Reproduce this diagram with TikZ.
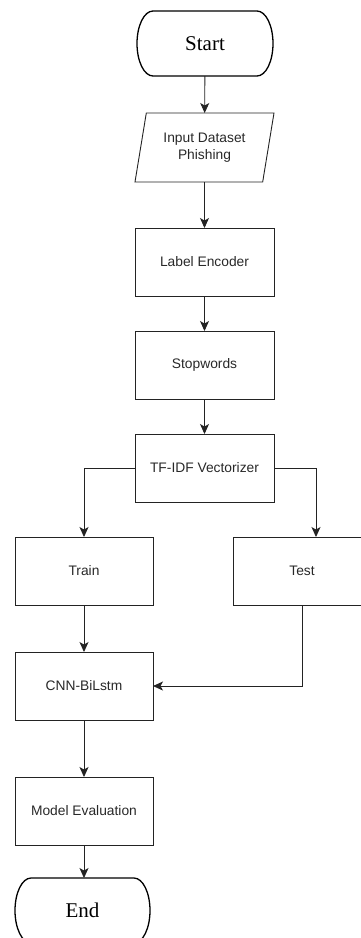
\documentclass[tikz,border=0pt]{standalone}
\usepackage{fontspec}
\setmainfont{Liberation Serif}
\newfontfamily\boxfont{Liberation Sans}
\usepackage{tikz}
\usetikzlibrary{positioning, arrows.meta, shapes.geometric}
\definecolor{flowline}{RGB}{35, 35, 35}
\definecolor{flowtext}{RGB}{40, 40, 40}

% outline of a start/end terminal round a named node
\newcommand{\drawterminal}[1]{%
  \draw [termline] ([xshift=16pt]#1.north west) -- ([xshift=-16pt]#1.north east)
    arc [start angle=90, end angle=-90, x radius=16pt, y radius=32.5pt]
    -- ([xshift=16pt]#1.south west)
    arc [start angle=270, end angle=90, x radius=16pt, y radius=32.5pt] -- cycle;}

\begin{document}
\begin{tikzpicture}[
      x=1pt, y=1pt,
      procbox/.style={draw=flowline, line width=0.9pt, outer sep=0pt, minimum width=139pt, minimum height=68pt, inner sep=2pt, align=center, text=flowtext, font=\boxfont\fontsize{13.8}{16.5}\selectfont},
      iobox/.style={procbox, trapezium, trapezium left angle=71, trapezium right angle=109, trapezium stretches body, minimum width=139pt, minimum height=69pt},
      terminal/.style={outer sep=0pt, minimum width=136pt, minimum height=65pt, inner sep=0pt, font=\fontsize{21}{24}\selectfont},
      termline/.style={draw=black, line width=1.3pt},
      arrowline/.style={-{Stealth[length=10pt, width=9pt, inset=2.5pt]}, line width=0.9pt, flowline}
    ]
      \useasboundingbox (0,0) rectangle (361,-938);
      \clip (0,0) rectangle (361,-938);

      \node [terminal] (start) at (205,-43.5) {Start};
      \node [iobox, below=37pt of start, xshift=-0.5pt] (input) {Input Dataset\\Phishing};
      \node [procbox, below=46pt of input] (encoder) {Label Encoder};
      \node [procbox, below=35pt of encoder] (stopwords) {Stopwords};
      \node [procbox, below=35pt of stopwords] (tfidf) {TF-IDF Vectorizer};
      \node [procbox, below=35pt of tfidf, xshift=-120.5pt, minimum width=138pt] (train) {Train};
      \node [procbox, below=35pt of tfidf, xshift=97.5pt, minimum width=138pt] (test) {Test};
      \node [procbox, below=47pt of train, minimum width=138pt] (cnn) {CNN-BiLstm};
      \node [procbox, below=57pt of cnn, minimum width=138pt] (evaluation) {Model Evaluation};
      \node [terminal, below=33pt of evaluation, xshift=-1.5pt, minimum width=135pt] (end) {End};
      \drawterminal{start}
      \drawterminal{end}

      \draw [arrowline] (start) -- (input);
      \draw [arrowline] (input) -- (encoder);
      \draw [arrowline] (encoder) -- (stopwords);
      \draw [arrowline] (stopwords) -- (tfidf);
      \draw [arrowline] (tfidf.west) -| (train.north);
      \draw [arrowline] (tfidf.east) -| ([xshift=14pt]test.north);
      \draw [arrowline] (train) -- (cnn);
      \draw [arrowline] (test.south) |- (cnn.east);
      \draw [arrowline] (cnn) -- (evaluation);
      \draw [arrowline] (evaluation.south) -- (evaluation.south |- end.north);
    \end{tikzpicture}
\end{document}
